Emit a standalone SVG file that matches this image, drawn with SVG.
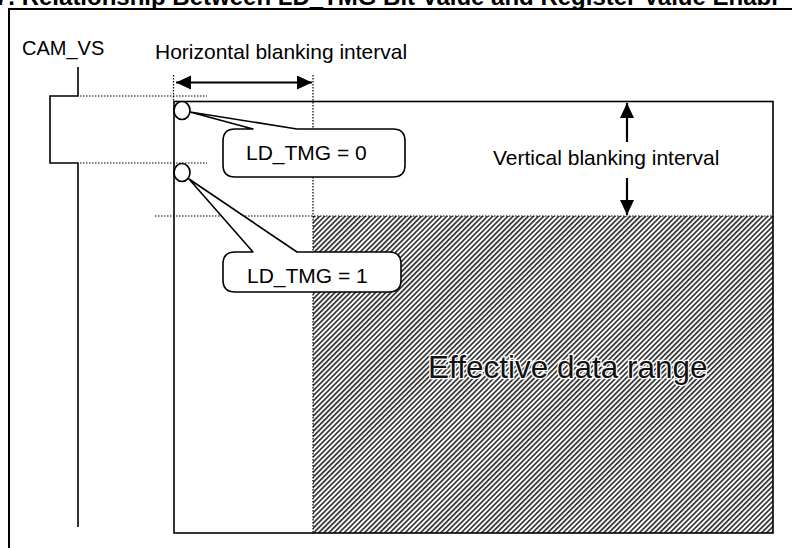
<svg xmlns="http://www.w3.org/2000/svg" width="792" height="548" viewBox="0 0 792 548">
<style>
text{font-family:"Liberation Sans",Arial,sans-serif;fill:#000}
.lbl{font-size:21px}
.ln{fill:none;stroke:#000;stroke-width:1.6}
.dot{fill:none;stroke:#000;stroke-width:1.2;stroke-dasharray:1.5 1.5}
.arr{fill:none;stroke:#000;stroke-width:2.2}
.callout{fill:#fff;stroke:#000;stroke-width:1.6;stroke-linejoin:round}
</style>
<defs>
<pattern id="hatch" patternUnits="userSpaceOnUse" width="3.6" height="10" patternTransform="rotate(45)">
<rect x="0" y="0" width="3.6" height="10" fill="#fff"/>
<rect x="0" y="0" width="1.7" height="10" fill="#333"/>
</pattern>
<marker id="ah" markerUnits="userSpaceOnUse" markerWidth="16" markerHeight="15" refX="15" refY="7" orient="auto-start-reverse" viewBox="0 0 16 15">
<path d="M0,0 L15,7 L0,14 Z" fill="#000"/>
</marker>
</defs>
<rect width="792" height="548" fill="#fff"/>

<g id="title">
<text x="-5" y="4.5" style="font-size:24px;font-weight:bold">7. Relationship Between LD_TMG Bit Value and Register Value Enabl</text>
</g>

<g id="frame">
<path d="M9,548 V9 H792" fill="none" stroke="#000" stroke-width="2"/>
</g>

<g id="effective-range">
<rect x="313" y="216" width="460" height="317" fill="url(#hatch)"/>
<text x="428" y="378" style="font-size:31.5px;paint-order:stroke;stroke:#fff;stroke-width:2.5;fill:#111">Effective data range</text>
</g>

<g id="frame-box">
<rect x="174" y="101.5" width="599" height="431.5" class="ln"/>
</g>

<g id="cam-vs">
<text x="22" y="55" style="font-size:20px">CAM_VS</text>
<path d="M78,67 V96 H50 V163 H78 V527" class="ln"/>
</g>

<g id="connectors">
<path d="M80,96 H207" class="dot"/>
<path d="M80,163 H207" class="dot"/>
<path d="M155,216 H773" class="dot"/>
<path d="M173.5,75 V101" class="dot"/>
<path d="M313,75 V533" class="dot"/>
<line x1="176" y1="82.5" x2="312" y2="82.5" class="arr" marker-start="url(#ah)" marker-end="url(#ah)"/>
<line x1="627" y1="142" x2="627" y2="103" class="arr" marker-end="url(#ah)"/>
<line x1="627" y1="178" x2="627" y2="215" class="arr" marker-end="url(#ah)"/>
</g>

<g id="labels">
<text x="155" y="59" class="lbl">Horizontal blanking interval</text>
<text x="493" y="165" class="lbl">Vertical blanking interval</text>
</g>

<g id="callout-0">
<ellipse cx="182" cy="110.5" rx="8" ry="9" class="callout"/>
<path class="callout" d="M235,129 L253,129 L190,112 L297,129 L393,129 Q405,129 405,141 L405,165 Q405,177 393,177 L235,177 Q223,177 223,165 L223,141 Q223,129 235,129 Z"/>
<text x="246" y="160" class="lbl">LD_TMG = 0</text>
</g>

<g id="callout-1">
<ellipse cx="182" cy="172.5" rx="8" ry="9" class="callout"/>
<path class="callout" d="M235,252 L253,252 L189,179 L297,252 L389,252 Q401,252 401,264 L401,280 Q401,292 389,292 L235,292 Q223,292 223,280 L223,264 Q223,252 235,252 Z"/>
<text x="247" y="283" class="lbl">LD_TMG = 1</text>
</g>
</svg>
